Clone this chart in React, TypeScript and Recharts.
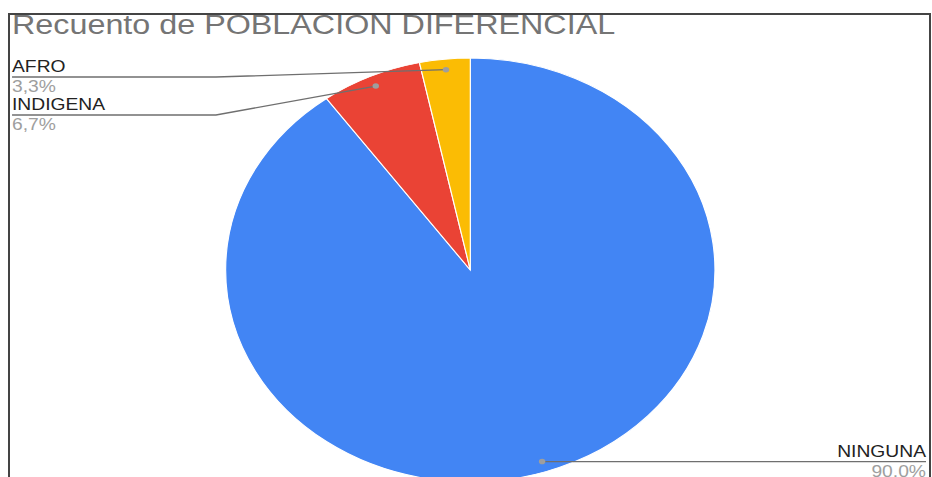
import React from 'react';
import { PieChart, Pie, Cell } from 'recharts';

const title = 'Recuento de POBLACION DIFERENCIAL';
const categories = ['NINGUNA', 'INDIGENA', 'AFRO'];
const counts = [27, 2, 1];
const colors = ['#4285F4', '#EA4335', '#FBBC04'];

const data = categories.map((name, i) => ({ name, value: counts[i] }));

const S = 1.154; // horizontal stretch of the reference picture
const W = 800;
const H = 490;
const CX = 400.6;
const CY = 270;
const R = 212;
const FONT = '"Liberation Sans", Arial, sans-serif';
const RAD = Math.PI / 180;

// order of left-side labels (top to bottom), derived from data
const total = counts.reduce((a, b) => a + b, 0);
const mids: number[] = [];
{
  let start = 90;
  counts.forEach((v) => {
    const sweep = (v / total) * 360;
    mids.push(start - sweep / 2);
    start -= sweep;
  });
}
const leftIdx = mids
  .map((m, i) => ({ m, i }))
  .filter((o) => Math.cos(o.m * RAD) < 0)
  .sort((a, b) => Math.sin(b.m * RAD) - Math.sin(a.m * RAD))
  .map((o) => o.i);

const fmt = (p: number) => (p * 100).toFixed(1).replace('.', ',') + '%';

const LFS = 16.7;

const renderLabel = (props: any) => {
  const { cx, cy, midAngle, outerRadius, index, percent, name } = props;
  const r = outerRadius * 0.95;
  const dx = cx + r * Math.cos(-midAngle * RAD);
  const dy = cy + r * Math.sin(-midAngle * RAD);
  const left = Math.cos(midAngle * RAD) < 0;
  if (left) {
    const rank = leftIdx.indexOf(index);
    const ly = cy - outerRadius + 19 + rank * 38;
    const kx = 180.2;
    const tx = 3.5;
    return (
      <g>
        <polyline
          points={`${tx},${ly} ${kx},${ly} ${dx},${dy}`}
          fill="none"
          stroke="#6f6f6f"
          strokeWidth={1.3}
        />
        <circle cx={dx} cy={dy} r={2.8} fill="#9e9e9e" />
        <text x={tx} y={ly - 5} fontSize={LFS} fontFamily={FONT} fill="#222">
          {name}
        </text>
        <text x={tx} y={ly + 15} fontSize={LFS} fontFamily={FONT} fill="#9e9e9e">
          {fmt(percent)}
        </text>
      </g>
    );
  }
  const ly = dy;
  const tx = 795.5;
  return (
    <g>
      <line x1={dx} y1={ly} x2={tx} y2={ly} stroke="#6f6f6f" strokeWidth={1.3} />
      <circle cx={dx} cy={dy} r={2.8} fill="#9e9e9e" />
      <text x={tx} y={ly - 5} fontSize={LFS} fontFamily={FONT} fill="#222" textAnchor="end">
        {name}
      </text>
      <text x={tx} y={ly + 15} fontSize={LFS} fontFamily={FONT} fill="#9e9e9e" textAnchor="end">
        {fmt(percent)}
      </text>
    </g>
  );
};

export default function App() {
  return (
    <div
      style={{
        position: 'fixed',
        left: 0,
        top: 0,
        width: 932,
        height: 477,
        overflow: 'hidden',
        background: '#fff',
      }}
    >
      <div
        style={{
          position: 'absolute',
          left: 8,
          top: 0,
          transform: `scaleX(${S})`,
          transformOrigin: '0 0',
        }}
      >
        <PieChart width={W} height={H} margin={{ top: 0, right: 0, bottom: 0, left: 0 }}>
          <text x={3.5} y={34} fontSize={28} fontFamily={FONT} fill="#757575">
            {title}
          </text>
          <Pie
            data={data}
            dataKey="value"
            nameKey="name"
            cx={CX}
            cy={CY}
            outerRadius={R}
            startAngle={90}
            endAngle={-270}
            stroke="#fff"
            strokeWidth={1}
            label={renderLabel}
            labelLine={false}
            isAnimationActive={false}
          >
            {data.map((d, i) => (
              <Cell key={d.name} fill={colors[i]} />
            ))}
          </Pie>
        </PieChart>
      </div>
      <div
        style={{
          position: 'absolute',
          left: 8,
          top: 0,
          width: 923,
          height: 13,
          background: '#fff',
        }}
      />
      <div
        style={{
          position: 'absolute',
          left: 8,
          top: 13,
          width: 923,
          height: 500,
          boxSizing: 'border-box',
          borderTop: '2px solid #444',
          borderLeft: '2px solid #444',
          borderRight: '2px solid #444',
        }}
      />
    </div>
  );
}
